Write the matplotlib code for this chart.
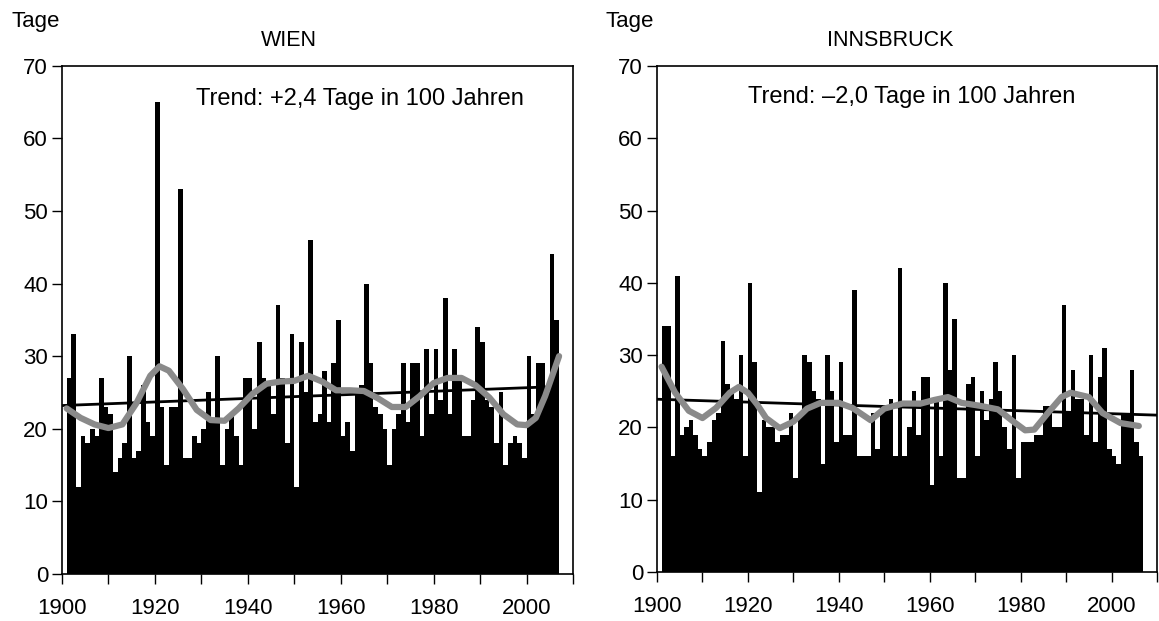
import numpy as np
import matplotlib
matplotlib.use('Agg')
import matplotlib.pyplot as plt

plt.rcParams['font.family'] = ['Liberation Sans', 'DejaVu Sans']

####################### DATA #######################
years = np.arange(1901, 2007)

wien = [27, 33, 12, 19, 18, 20, 19, 27, 23, 22,
        14, 16, 18, 30, 16, 17, 26, 21, 19, 65,
        23, 15, 23, 23, 53, 16, 16, 19, 18, 20,
        25, 21, 30, 15, 20, 22, 19, 15, 27, 27,
        20, 32, 27, 26, 22, 37, 27, 18, 33, 12,
        32, 25, 46, 21, 22, 28, 21, 29, 35, 19,
        21, 17, 25, 26, 40, 29, 23, 22, 20, 15,
        20, 22, 29, 21, 29, 29, 19, 31, 22, 31,
        24, 38, 22, 31, 27, 19, 19, 24, 34, 32,
        24, 23, 18, 25, 15, 18, 19, 18, 16, 30,
        22, 29, 29, 25, 44, 35]

innsbruck = [34, 34, 16, 41, 19, 20, 21, 19, 17, 16,
             18, 21, 22, 32, 26, 25, 24, 30, 16, 40,
             29, 11, 21, 20, 20, 18, 19, 19, 22, 13,
             22, 30, 29, 25, 24, 15, 30, 25, 18, 29,
             19, 19, 39, 16, 16, 16, 22, 17, 23, 23,
             24, 16, 42, 16, 20, 25, 19, 27, 27, 12,
             24, 16, 40, 28, 35, 13, 13, 26, 27, 16,
             25, 21, 24, 29, 25, 20, 17, 30, 13, 18,
             18, 18, 19, 19, 23, 23, 20, 20, 37, 22,
             28, 24, 24, 19, 30, 18, 27, 31, 17, 16,
             15, 22, 22, 28, 18, 16]

# smoothed curves
wien_sm_x = [1901, 1904, 1907, 1910, 1913, 1916, 1919, 1921, 1923, 1926,
             1929, 1932, 1935, 1938, 1941, 1944, 1947, 1950, 1953, 1956,
             1959, 1962, 1965, 1968, 1971, 1974, 1977, 1980, 1983, 1986,
             1989, 1992, 1995, 1998, 2000, 2002, 2004, 2007]
wien_sm_y = [22.8, 21.5, 20.6, 20.1, 20.6, 23.5, 27.3, 28.6, 28.0, 25.5,
             22.6, 21.2, 21.1, 22.8, 24.8, 26.2, 26.5, 26.6, 27.3, 26.5,
             25.3, 25.3, 25.2, 24.2, 23.0, 23.0, 24.5, 26.3, 27.0, 27.0,
             26.0, 24.3, 22.0, 20.6, 20.5, 21.5, 24.5, 30.0]

ibk_sm_x = [1901, 1904, 1907, 1910, 1913, 1916, 1918, 1920, 1922, 1924,
            1927, 1930, 1933, 1936, 1940, 1943, 1947, 1950, 1954, 1958,
            1961, 1964, 1967, 1971, 1975, 1978, 1981, 1983, 1986, 1989,
            1991, 1995, 1998, 2002, 2006]
ibk_sm_y = [28.4, 24.8, 22.3, 21.3, 22.7, 24.8, 25.6, 24.8, 23.2, 21.3,
            19.9, 20.8, 22.6, 23.4, 23.4, 22.7, 21.0, 22.6, 23.3, 23.3,
            23.8, 24.2, 23.4, 23.0, 22.5, 21.0, 19.6, 19.7, 22.0, 24.2,
            24.8, 24.2, 22.0, 20.6, 20.2]

# linear trends (start/end)
wien_tr_x = [1900, 2006]
wien_tr_y = [23.2, 25.8]
ibk_tr_x = [1900, 2010]
ibk_tr_y = [23.9, 21.7]

titles = ['WIEN', 'INNSBRUCK']
trend_txt = ['Trend: +2,4 Tage in 100 Jahren', 'Trend: \u20132,0 Tage in 100 Jahren']
#####################################################

fig = plt.figure(figsize=(11.59, 6.21), dpi=100)
W, H = 1159., 621.
# axes boxes in pixels: left, right, top, bottom
boxes = [(62, 573, 65.7, 574), (657, 1157, 66, 572)]

panels = [(wien, wien_sm_x, wien_sm_y, wien_tr_x, wien_tr_y),
          (innsbruck, ibk_sm_x, ibk_sm_y, ibk_tr_x, ibk_tr_y)]
title_pos = [(289, 41), (890, 41)]
tage_pos = [(11, 22), (606, 22)]
trend_pos = [(360, 99), (912, 97)]

for k, (vals, sx, sy, tx, ty) in enumerate(panels):
    l, r, t, b = boxes[k]
    ax = fig.add_axes([l / W, 1 - b / H, (r - l) / W, (b - t) / H])
    ax.bar(years, vals, width=1.0, align='edge', color='black', linewidth=0)
    ax.plot(tx, ty, color='black', lw=2.0, zorder=3)
    ax.plot(sx, sy, color='#8a8a8a', lw=4.5, zorder=4,
            solid_capstyle='round', solid_joinstyle='round')
    ax.set_xlim(1900, 2010)
    ax.set_ylim(0, 70)
    ax.set_xticks(np.arange(1900, 2001, 20))
    ax.set_xticks(np.arange(1900, 2011, 10), minor=True)
    ax.set_yticks(np.arange(0, 71, 10))
    ax.tick_params(axis='both', which='both', direction='out', length=7,
                   width=1, labelsize=16)
    ax.tick_params(axis='x', which='major', pad=10)
    ax.tick_params(axis='y', pad=3)
    for s in ax.spines.values():
        s.set_linewidth(1.2)
    fig.text(title_pos[k][0] / W, 1 - title_pos[k][1] / H, titles[k],
             ha='center', va='center', fontsize=15.5)
    fig.text(tage_pos[k][0] / W, 1 - tage_pos[k][1] / H, 'Tage',
             ha='left', va='center', fontsize=16)
    fig.text(trend_pos[k][0] / W, 1 - trend_pos[k][1] / H, trend_txt[k],
             ha='center', va='center', fontsize=17)

plt.savefig('out.png', dpi=100)
plt.close('all')
